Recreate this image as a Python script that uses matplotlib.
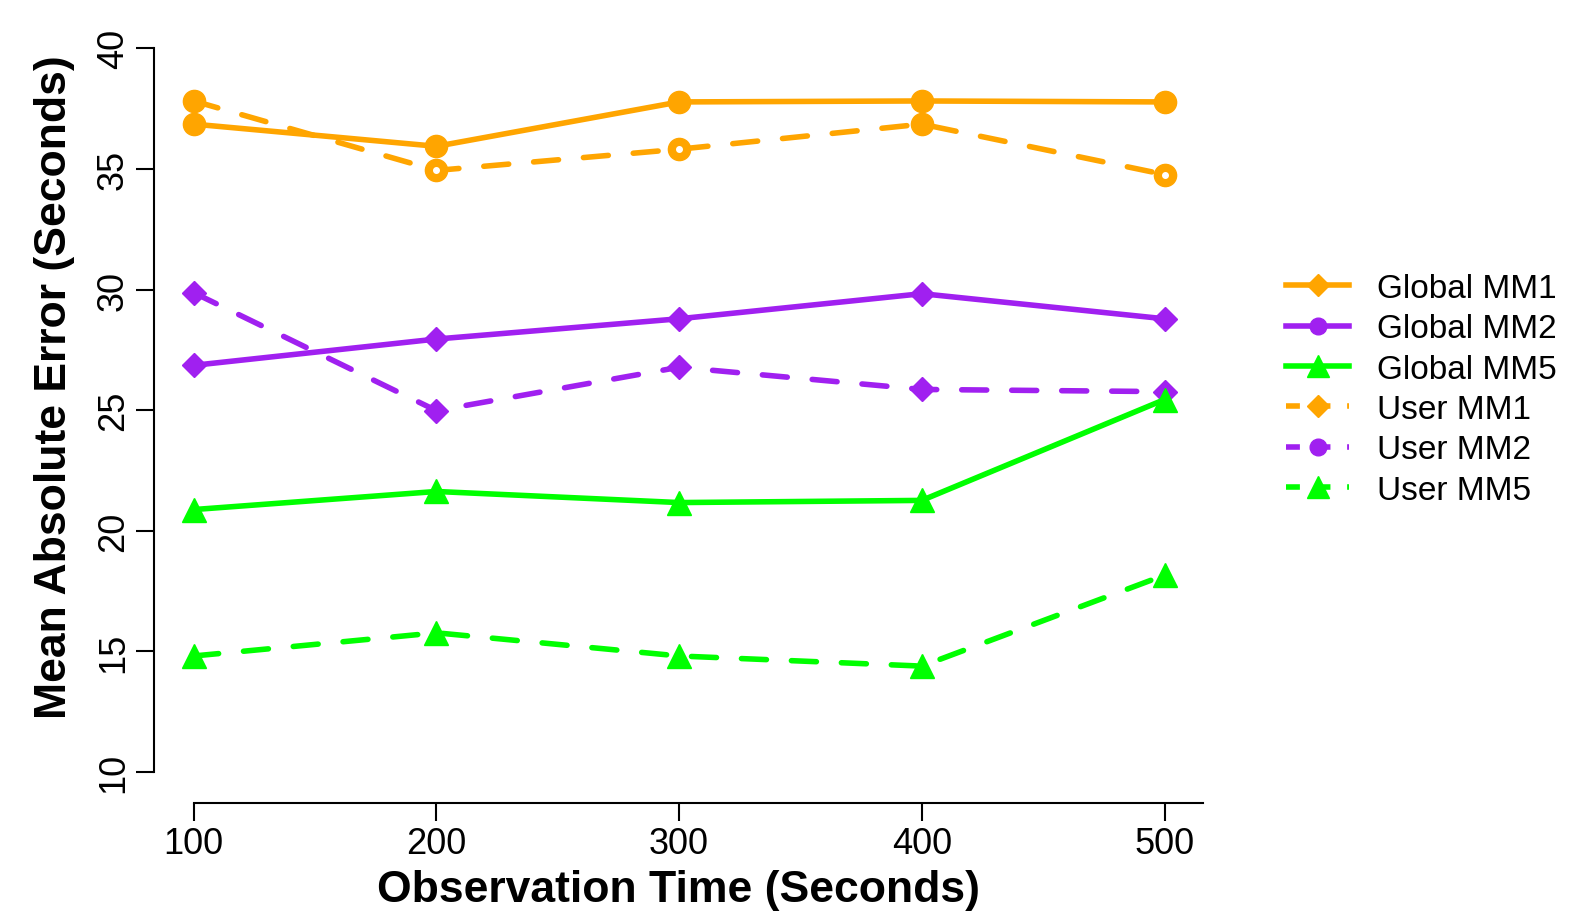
import matplotlib.pyplot as plt
from matplotlib.lines import Line2D

plt.rcParams['font.family'] = ['Liberation Sans', 'DejaVu Sans']

obs_time = [100, 200, 300, 400, 500]

global_mm1 = [36.86, 35.94, 37.78, 37.82, 37.78]
global_mm2 = [26.86, 27.95, 28.79, 29.83, 28.79]
global_mm5 = [20.88, 21.63, 21.17, 21.26, 25.44]
user_mm1 = [37.82, 34.94, 35.82, 36.86, 34.77]
user_mm2 = [29.87, 24.98, 26.78, 25.86, 25.77]
user_mm5 = [14.81, 15.77, 14.81, 14.39, 18.16]

# points of User MM1 drawn with a little white hole
user_mm1_hollow = [1, 2, 4]

labels = ['Global MM1', 'Global MM2', 'Global MM5', 'User MM1', 'User MM2', 'User MM5']

orange = '#FFA500'
purple = '#A020F0'
green = '#00FF00'

fig = plt.figure(figsize=(15.82, 9.12), dpi=100)
ax = fig.add_axes([0.0976, 0.1183, 0.6626, 0.854])

lw = 4
dash = (0, (4.5, 4.5))

ax.plot(obs_time, global_mm1, color=orange, lw=lw, marker='o', ms=16, solid_capstyle='round')
ax.plot(obs_time, user_mm1, color=orange, lw=lw, ls=dash, marker='o', ms=16, dash_capstyle='round')
ax.plot([obs_time[i] for i in user_mm1_hollow], [user_mm1[i] for i in user_mm1_hollow],
        ls='none', marker='o', ms=4, color='white')

ax.plot(obs_time, global_mm2, color=purple, lw=lw, marker='D', ms=12, solid_capstyle='round')
ax.plot(obs_time, user_mm2, color=purple, lw=lw, ls=dash, marker='D', ms=12, dash_capstyle='round')

ax.plot(obs_time, global_mm5, color=green, lw=lw, marker='^', ms=17, solid_capstyle='round')
ax.plot(obs_time, user_mm5, color=green, lw=lw, ls=dash, marker='^', ms=17, dash_capstyle='round')

ax.set_xlim(83.8, 515.7)
ax.set_ylim(8.71, 41)
for s in ['top', 'right']:
    ax.spines[s].set_visible(False)
ax.spines['left'].set_bounds(10, 40)
ax.spines['bottom'].set_bounds(100, 515.7)
ax.spines['left'].set_linewidth(1.5)
ax.spines['bottom'].set_linewidth(1.5)

ax.set_xticks(obs_time)
ax.set_yticks([10, 15, 20, 25, 30, 35, 40])
ax.tick_params(axis='both', labelsize=26, length=13, width=1.5, direction='out')
ax.tick_params(axis='y', pad=4)
for t in ax.get_yticklabels():
    t.set_rotation(90)
    t.set_va('center')

ax.set_xlabel('Observation Time (Seconds)', fontsize=32, fontweight='bold', labelpad=6)
ax.set_ylabel('Mean Absolute Error (Seconds)', fontsize=32, fontweight='bold', labelpad=15)
ax.yaxis.label.set_y(0.5356)

leg_dash = (0, (2.5, 3))
handles = [
    Line2D([], [], color=orange, lw=lw, marker='D', ms=11),
    Line2D([], [], color=purple, lw=lw, marker='o', ms=12),
    Line2D([], [], color=green, lw=lw, marker='^', ms=16),
    Line2D([], [], color=orange, lw=lw, ls=leg_dash, marker='D', ms=11),
    Line2D([], [], color=purple, lw=lw, ls=leg_dash, marker='o', ms=12),
    Line2D([], [], color=green, lw=lw, ls=leg_dash, marker='^', ms=16),
]
fig.legend(handles, labels, loc='center left', bbox_to_anchor=(0.794, 0.572),
           frameon=False, fontsize=24, handlelength=1.9, handletextpad=0.82,
           labelspacing=0.28)

fig.savefig('out.png', dpi=100)
